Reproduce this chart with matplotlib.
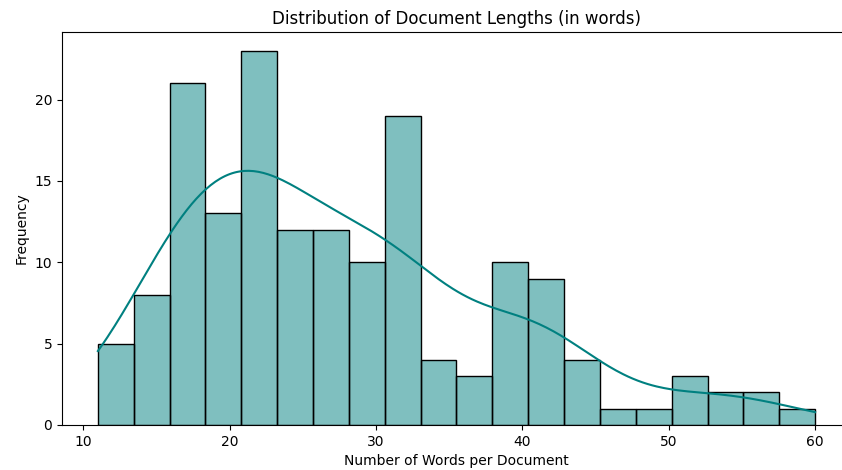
import numpy as np
import matplotlib
matplotlib.use("Agg")
import matplotlib.pyplot as plt

# histogram of words per document: 20 bins between 11 and 60
bin_start = 11
bin_end = 60
counts = [5, 8, 21, 13, 23, 12, 12, 10, 19, 4, 3, 10, 9, 4, 1, 1, 3, 2, 2, 1]

edges = np.linspace(bin_start, bin_end, len(counts) + 1)
centers = (edges[:-1] + edges[1:]) / 2
width = edges[1] - edges[0]
weights = np.array(counts, dtype=float)
n = weights.sum()

# gaussian kde over the binned values, scaled to counts
mean = np.average(centers, weights=weights)
std = np.sqrt(np.average((centers - mean) ** 2, weights=weights) + width ** 2 / 12)
bw = 1.07 * std * n ** (-1 / 5)
xs = np.linspace(bin_start, bin_end, 300)
dens = (weights[None, :] * np.exp(-0.5 * ((xs[:, None] - centers[None, :]) / bw) ** 2)).sum(axis=1)
dens = dens / (n * bw * np.sqrt(2 * np.pi))
kde_counts = dens * n * width

fig = plt.figure(figsize=(8.42, 4.70), dpi=100)
ax = fig.add_axes([62 / 842, 45 / 470, (851 - 62) / 842, (425 - 32) / 470])

ax.bar(edges[:-1], counts, width=width, align="edge",
       color="teal", alpha=0.5, edgecolor="none")
ax.bar(edges[:-1], counts, width=width, align="edge",
       facecolor="none", edgecolor="black", linewidth=1)
ax.plot(xs, kde_counts, color="teal", linewidth=1.5)

ax.set_xlim(bin_start - 0.05 * (bin_end - bin_start), bin_end + 0.05 * (bin_end - bin_start))
ax.set_ylim(0, max(counts) * 1.05)
ax.set_xticks([10, 20, 30, 40, 50, 60])
ax.set_yticks([0, 5, 10, 15, 20])

ax.set_title("Distribution of Document Lengths (in words)", fontsize=12)
ax.set_xlabel("Number of Words per Document")
ax.set_ylabel("Frequency")

fig.savefig("out.png", dpi=100)
